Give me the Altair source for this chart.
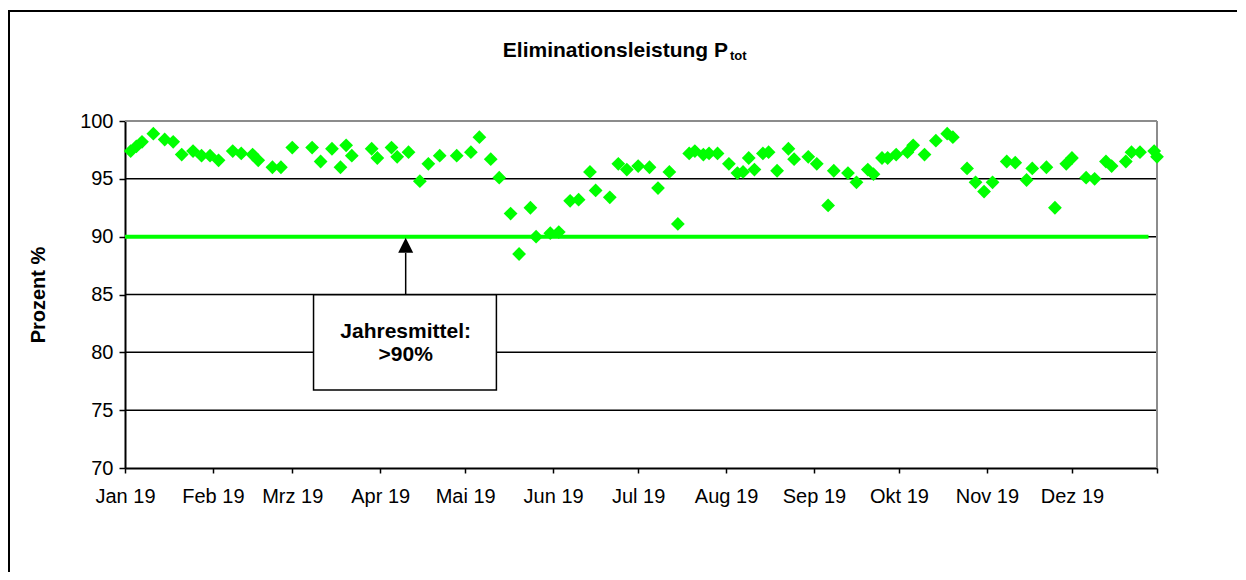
import altair as alt
import pandas as pd

# ---- data ----
dates = [
    "2019-01-03", "2019-01-05", "2019-01-07", "2019-01-11", "2019-01-15", "2019-01-18", "2019-01-21", "2019-01-25", "2019-01-28", "2019-01-31",
    "2019-02-03", "2019-02-08", "2019-02-11", "2019-02-15", "2019-02-17", "2019-02-22", "2019-02-25",
    "2019-03-01", "2019-03-08", "2019-03-11", "2019-03-15", "2019-03-18", "2019-03-20", "2019-03-22", "2019-03-29", "2019-03-31",
    "2019-04-05", "2019-04-07", "2019-04-11", "2019-04-15", "2019-04-18", "2019-04-22", "2019-04-28",
    "2019-05-03", "2019-05-06", "2019-05-10", "2019-05-13", "2019-05-17", "2019-05-20", "2019-05-24", "2019-05-26", "2019-05-31",
    "2019-06-03", "2019-06-07", "2019-06-10", "2019-06-14", "2019-06-16", "2019-06-21", "2019-06-24", "2019-06-27",
    "2019-07-01", "2019-07-05", "2019-07-08", "2019-07-12", "2019-07-15", "2019-07-19", "2019-07-21", "2019-07-24", "2019-07-26", "2019-07-29",
    "2019-08-02", "2019-08-05", "2019-08-07", "2019-08-09", "2019-08-11", "2019-08-14", "2019-08-16", "2019-08-19", "2019-08-23", "2019-08-25", "2019-08-30",
    "2019-09-02", "2019-09-06", "2019-09-08", "2019-09-13", "2019-09-16", "2019-09-20", "2019-09-22", "2019-09-25", "2019-09-27", "2019-09-30",
    "2019-10-04", "2019-10-06", "2019-10-10", "2019-10-14", "2019-10-18", "2019-10-20", "2019-10-25", "2019-10-28", "2019-10-31",
    "2019-11-03", "2019-11-08", "2019-11-11", "2019-11-15", "2019-11-17", "2019-11-22", "2019-11-25", "2019-11-29",
    "2019-12-01", "2019-12-06", "2019-12-09", "2019-12-13", "2019-12-15", "2019-12-20", "2019-12-22", "2019-12-25", "2019-12-30", "2019-12-31",
]
values = [
    97.4, 97.8, 98.2, 98.9, 98.4, 98.2, 97.1, 97.4, 97.0, 97.0,
    96.6, 97.4, 97.2, 97.1, 96.6, 96.0, 96.0,
    97.7, 97.7, 96.5, 97.6, 96.0, 97.9, 97.0, 97.6, 96.8,
    97.7, 96.9, 97.3, 94.8, 96.3, 97.0, 97.0,
    97.3, 98.6, 96.7, 95.1, 92.0, 88.5, 92.5, 90.0, 90.3,
    90.4, 93.1, 93.2, 95.6, 94.0, 93.4, 96.3, 95.8,
    96.1, 96.0, 94.2, 95.6, 91.1, 97.2, 97.4, 97.1, 97.2, 97.2,
    96.3, 95.5, 95.6, 96.8, 95.8, 97.2, 97.3, 95.7, 97.6, 96.7, 96.9,
    96.3, 92.7, 95.7, 95.5, 94.7, 95.8, 95.4, 96.8, 96.8, 97.1,
    97.3, 97.9, 97.1, 98.3, 98.9, 98.6, 95.9, 94.7, 93.9,
    94.7, 96.5, 96.4, 94.9, 95.9, 96.0, 92.5, 96.3,
    96.8, 95.1, 95.0, 96.5, 96.1, 96.5, 97.3, 97.3, 97.4, 96.9,
]
month_names = ["Jan", "Feb", "Mrz", "Apr", "Mai", "Jun", "Jul", "Aug", "Sep", "Okt", "Nov", "Dez"]
y_ticks = [70, 75, 80, 85, 90, 95, 100]
grid_values = [75, 80, 85, 90, 95]
target_value = 90
target_start, target_end = "2019-01-01", "2019-12-28"
title_main = "Eliminationsleistung P"
title_sub = "tot"
annotation_lines = ["Jahresmittel:", ">90%"]
annotation_y = [81.8, 79.75]
box_x, box_x2 = "2019-03-08T12:00:00", "2019-05-12"
box_y, box_y2 = 84.97, 76.74
arrow_x = "2019-04-10"
arrow_y, arrow_y2 = 85.0, 88.6
arrow_head_y = 89.25

GREEN = "#00FF00"
FONT = "Liberation Sans"
FRAME_GRAY = "#8C8C8C"

df = pd.DataFrame({"date": dates, "value": values})
grid_df = pd.DataFrame({"v": grid_values})
target_df = pd.DataFrame({"start": [target_start], "end": [target_end], "v": [target_value]})
box_df = pd.DataFrame({"x": [box_x], "x2": [box_x2], "y": [box_y], "y2": [box_y2]})
ann_df = pd.DataFrame({"x": [arrow_x] * 2, "y": annotation_y, "t": annotation_lines})
arrow_df = pd.DataFrame({"x": [arrow_x], "y": [arrow_y], "y2": [arrow_y2], "yh": [arrow_head_y]})

xscale = alt.Scale(type="utc",
                   domain=[alt.DateTime(year=2019, month=1, date=1, utc=True),
                           alt.DateTime(year=2019, month=12, date=31, utc=True)])
yscale = alt.Scale(domain=[70, 100], nice=False, zero=False)

month_expr = ("utcdate(datum.value) == 1 ? [" + ",".join("'%s'" % m for m in month_names)
              + "][utcmonth(datum.value)] + ' ' + utcFormat(datum.value, '%y') : ''")
x_axis = alt.Axis(
    values=[alt.DateTime(year=2019, month=m, date=1, utc=True) for m in range(1, 13)]
    + [alt.DateTime(year=2019, month=12, date=31, utc=True)],
    labelExpr=month_expr, title=None, grid=False,
    domainColor="black", domainWidth=2, tickColor="black", tickWidth=1.5, tickSize=5,
    labelFontSize=20, labelFont=FONT, labelColor="black", labelPadding=13, labelFlush=False,
    labelOverlap=False,
)
y_axis = alt.Axis(
    values=y_ticks, title="Prozent %", grid=False,
    domainColor="black", domainWidth=2, tickColor="black", tickWidth=1.5, tickSize=6,
    labelFontSize=20, labelFont=FONT, labelColor="black", labelPadding=6,
    titleFont=FONT, titleFontSize=20, titleFontWeight="bold", titleColor="black", titlePadding=31,
)

X = lambda f: alt.X(f, type="temporal", scale=xscale, axis=x_axis)

grid = alt.Chart(grid_df).mark_rule(color="black", strokeWidth=1.5).encode(
    y=alt.Y("v:Q", scale=yscale, axis=y_axis)
)

frame_gray_top = alt.Chart(pd.DataFrame({"a": [0]})).mark_rule(color=FRAME_GRAY, strokeWidth=2).encode(
    x=alt.value(0), x2=alt.value(1032), y=alt.value(0)
)
frame_gray_right = alt.Chart(pd.DataFrame({"a": [0]})).mark_rule(color=FRAME_GRAY, strokeWidth=2).encode(
    x=alt.value(1032), y=alt.value(0), y2=alt.value(347)
)

target = alt.Chart(target_df).mark_rule(color=GREEN, strokeWidth=4).encode(
    x=X("start"), x2="end:T", y=alt.Y("v:Q", scale=yscale)
)

points = alt.Chart(df).mark_point(shape="diamond", filled=True, size=190, color=GREEN, opacity=1).encode(
    x=X("date"), y=alt.Y("value:Q", scale=yscale)
)

box = alt.Chart(box_df).mark_rect(fill="white", stroke="black", strokeWidth=1.5).encode(
    x=X("x"), x2="x2:T", y=alt.Y("y:Q", scale=yscale), y2="y2:Q"
)

ann_text = alt.Chart(ann_df).mark_text(font=FONT, fontSize=21, fontWeight="bold", color="black",
                                       align="center", baseline="middle").encode(
    x=X("x"), y=alt.Y("y:Q", scale=yscale), text="t:N"
)

arrow = alt.Chart(arrow_df).mark_rule(color="black", strokeWidth=1.5).encode(
    x=X("x"), y=alt.Y("y:Q", scale=yscale), y2="y2:Q"
)
arrow_head = alt.Chart(arrow_df).mark_point(shape="M-1,1L0,-1L1,1Z", filled=True, size=225,
                                            color="black", opacity=1).encode(
    x=X("x"), y=alt.Y("yh:Q", scale=yscale)
)

title_a = alt.Chart(pd.DataFrame({"t": [title_main]})).mark_text(
    font=FONT, fontSize=21, fontWeight="bold", color="black", align="right", baseline="alphabetic"
).encode(x=alt.value(603), y=alt.value(-64), text="t:N")
title_b = alt.Chart(pd.DataFrame({"t": [title_sub]})).mark_text(
    font=FONT, fontSize=13, fontWeight="bold", color="black", align="left", baseline="alphabetic"
).encode(x=alt.value(605), y=alt.value(-61), text="t:N")

frame_left = alt.Chart(pd.DataFrame({"a": [0]})).mark_rule(color="black", strokeWidth=2).encode(
    x=alt.value(-116), y=alt.value(-110), y2=alt.value(480)
)
frame_top = alt.Chart(pd.DataFrame({"a": [0]})).mark_rule(color="black", strokeWidth=2).encode(
    x=alt.value(-117), x2=alt.value(1140), y=alt.value(-110)
)

chart = alt.layer(
    grid, frame_gray_top, frame_gray_right, target, points, box, ann_text, arrow, arrow_head,
    title_a, title_b, frame_left, frame_top
).properties(
    width=1032, height=347,
    autosize=alt.AutoSizeParams(type="none"),
    padding={"left": 117, "top": 113, "right": 80, "bottom": 104},
).configure_view(strokeWidth=0).configure(background="white")

chart.save("out.html", embed_options={"renderer": "svg", "actions": False})
